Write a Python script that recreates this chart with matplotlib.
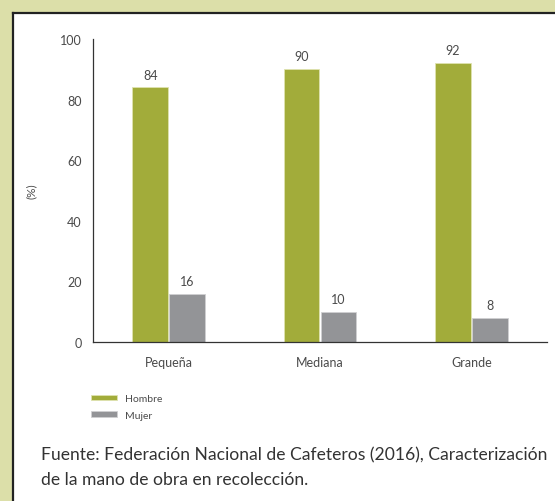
import matplotlib
matplotlib.use("Agg")
import matplotlib.pyplot as plt
import numpy as np
from matplotlib.patches import Rectangle
from matplotlib.lines import Line2D

categories = ["Pequeña", "Mediana", "Grande"]
hombre = [84, 90, 92]
mujer = [16, 10, 8]
series_names = ["Hombre", "Mujer"]
yticks = [0, 20, 40, 60, 80, 100]
footnote_lines = ["Fuente: Federación Nacional de Cafeteros (2016), Caracterización",
                  "de la mano de obra en recolección."]

W, H = 555, 502
plt.rcParams['font.family'] = ['Lato', 'DejaVu Sans']
fig = plt.figure(figsize=(W/100, H/100), dpi=100)
fig.patch.set_facecolor('#dcdfa9')

# white panel
fig.patches.append(Rectangle((13/W, 0), 1, 1 - 14/H, transform=fig.transFigure,
                             facecolor='white', edgecolor='none', zorder=-5))
fig.lines.append(Line2D([13/W, 13/W], [0, 1 - 14/H], transform=fig.transFigure,
                        color='#222222', lw=1.6, zorder=-4))
fig.lines.append(Line2D([13/W, 1], [1 - 14/H, 1 - 14/H], transform=fig.transFigure,
                        color='#222222', lw=1.6, zorder=-4))

ax = fig.add_axes([93/W, 1 - 343/H, (547-93)/W, (343-40)/H])
ax.set_zorder(2)
ax.set_facecolor('none')
green = '#a2ac3a'
gray = '#939497'
tc = '#4a4a4a'
x = np.arange(len(categories))
bw = 0.235
off = 0.122
b1 = ax.bar(x - off, hombre, bw, color=green, edgecolor='#dfe3b0', linewidth=0.6, label=series_names[0])
b2 = ax.bar(x + off, mujer, bw, color=gray, edgecolor='#d0d0d2', linewidth=0.6, label=series_names[1])
for bars, vals in ((b1, hombre), (b2, mujer)):
    for r, v in zip(bars, vals):
        ax.annotate(str(v), (r.get_x() + r.get_width()/2, v), xytext=(0, 5),
                    textcoords='offset points', ha='center', va='bottom',
                    fontsize=9, color=tc)

ax.set_xlim(-0.5, 2.5)
ax.set_ylim(0, 100)
ax.set_yticks(yticks)
ax.set_xticks(x)
ax.set_xticklabels(categories)
ax.tick_params(length=0, labelsize=9, colors=tc)
ax.tick_params(axis='y', pad=8)
ax.tick_params(axis='x', pad=10)
for s in ('top', 'right'):
    ax.spines[s].set_visible(False)
for s in ('left', 'bottom'):
    ax.spines[s].set_color('#333333')
    ax.spines[s].set_linewidth(0.9)
ax.set_ylabel('(%)', fontsize=8.5, color=tc, labelpad=17)

leg = fig.legend(handles=[b1, b2], labels=series_names, loc='upper left',
                 bbox_to_anchor=(82/W, 1 - 386/H), frameon=False, fontsize=7.5,
                 handlelength=2.5, handleheight=0.45, handletextpad=0.7,
                 labelspacing=0.7, labelcolor=tc)

for i, line in enumerate(footnote_lines):
    fig.text(41/W, 1 - (455 + 25*i)/H, line, fontsize=12.6, color='#333333',
             va='center', ha='left')

fig.savefig('out.png', dpi=100, facecolor=fig.get_facecolor())
